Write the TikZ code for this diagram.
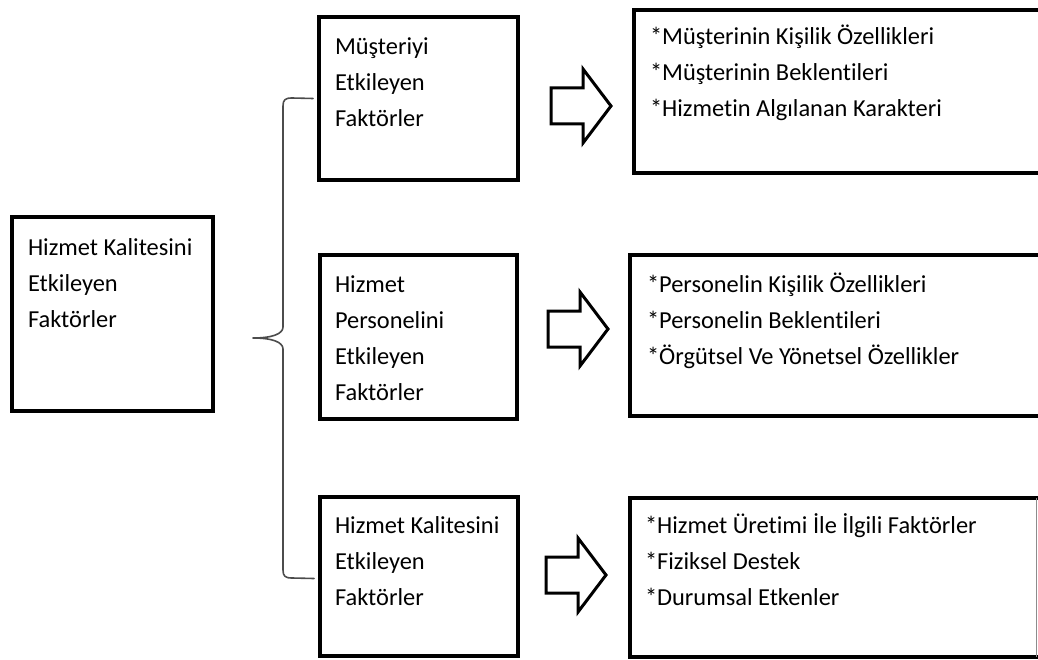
\documentclass[tikz,border=0pt]{standalone}
\usepackage{fontspec}
\setmainfont{Carlito}[Ligatures=NoCommon]
\usetikzlibrary{calc}
\tikzset{
  box/.style={draw=black, line width=4.5pt, rectangle, inner sep=0pt, outer sep=0pt, anchor=north west},
  txt/.style={anchor=base west, inner sep=0pt, outer sep=0pt, font=\fontsize{24.4}{36}\selectfont},
  bracket/.style={draw=black!70, line width=1.6pt, line cap=round, line join=round},
  blockarrow/.pic={
    \draw[line width=3pt, line join=miter]
      (-30,-18) -- (2,-18) -- (2,-37) -- (30,0) -- (2,37) -- (2,18) -- (-30,18) -- cycle;
  }
}
\newcommand{\lines}[1]{\begin{tabular}[t]{@{}l@{}}#1\end{tabular}}
\begin{document}
\begin{tikzpicture}[x=1pt, y=-1pt]
  \clip (0,0) rectangle (1038,660);
  \fill[white] (0,0) rectangle (1038,660);

  % root box
  \node[box, minimum width=201pt, minimum height=194pt] (L) at (12,217) {};
  \node[txt] (Lt) at ($(L.north west)+(16,38)$) {\lines{Hizmet Kalitesini\\Etkileyen\\Faktörler}};

  % middle column
  \node[box, minimum width=199pt, minimum height=163pt] (A) at (319,17) {};
  \node[txt] (At) at ($(A.north west)+(16,38)$) {\lines{Müşteriyi\\Etkileyen\\Faktörler}};

  \node[box, minimum width=197pt, minimum height=164pt] (B) at (320,255) {};
  \node[txt] (Bt) at ($(B.north west)+(15,37)$) {\lines{Hizmet\\Personelini\\Etkileyen\\Faktörler}};

  \node[box, minimum width=198pt, minimum height=159pt] (C) at (320,497) {};
  \node[txt] (Ct) at ($(C.north west)+(15,36)$) {\lines{Hizmet Kalitesini\\Etkileyen\\Faktörler}};

  % right column
  \node[box, minimum width=420pt, minimum height=163pt] (R1) at (634,10) {};
  \node[txt] (R1t) at ($(R1.north west)+(16,35)$) {\lines{*Müşterinin Kişilik Özellikleri\\{}*Müşterinin Beklentileri\\{}*Hizmetin Algılanan Karakteri}};

  \node[box, minimum width=424pt, minimum height=161pt] (R2) at (630,255) {};
  \node[txt] (R2t) at ($(R2.north west)+(17,37)$) {\lines{*Personelin Kişilik Özellikleri\\{}*Personelin Beklentileri\\{}*Örgütsel Ve Yönetsel Özellikler}};

  \node[box, minimum width=424pt, minimum height=159pt] (R3) at (630,498) {};
  \node[txt] (R3t) at ($(R3.north west)+(15,35)$) {\lines{*Hizmet Üretimi İle İlgili Faktörler\\{}*Fiziksel Destek\\{}*Durumsal Etkenler}};
  \draw[black!45, line width=1pt] (1036.5,498) -- (1036.5,657);

  % block arrows between the columns
  \pic at (581,106) {blockarrow};
  \pic at (578,329) {blockarrow};
  \pic at (576,575) {blockarrow};

  % brace from the root to the three groups
  \coordinate (cusp) at (253,338);
  \draw[bracket]
    ($(A.west)+(-6,0)$) -- (292,98)
    .. controls (285,98) and (283,100) .. (283,106)
    -- (283,327)
    .. controls (283,334) and (272,338) .. (cusp)
    .. controls (272,338) and (283,342) .. (283,349)
    -- (283,570)
    .. controls (283,576) and (285,578) .. (292,578)
    -- ($(C.west)+(-6,2)$);
\end{tikzpicture}
\end{document}
